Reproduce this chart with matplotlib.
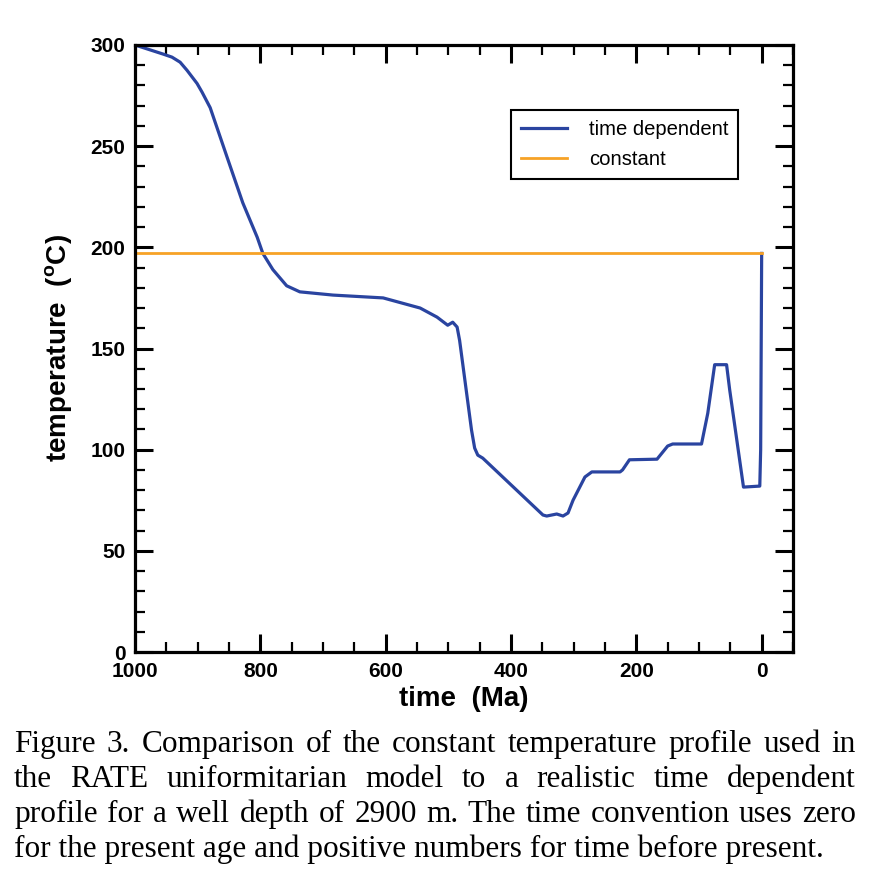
import numpy as np
import matplotlib
matplotlib.use("Agg")
import matplotlib.pyplot as plt
from matplotlib.ticker import MultipleLocator

#%% data

time_dep = [1000, 955, 941, 928, 917, 901, 893, 880, 853, 828, 805, 796, 780,
            758, 737, 684, 604, 545, 518, 501, 493, 486, 482, 470, 463, 458,
            453, 445, 349, 343, 327, 317, 309, 301, 282, 271, 226, 222, 211,
            167, 150, 142, 96, 86, 75, 56, 51, 29, 3, 1.6, 0]
temp_dep = [300, 295.5, 294, 291.5, 287.5, 281, 276.7, 269, 244.5, 222, 205,
            197, 189, 181, 178, 176.4, 175, 170, 165.5, 161.5, 163, 160.6, 154,
            126, 109.7, 100.8, 97.3, 95.8, 67.7, 67.2, 68.2, 67.2, 68.7, 75,
            86.5, 89, 89, 90, 95, 95.3, 101.8, 102.8, 102.8, 118, 142, 142,
            129.5, 81.5, 82, 100, 197]

time_const = [1000, 0]
temp_const = [197, 197]

series_labels = ["time dependent", "constant"]

caption = ["Figure 3.  Comparison of the constant temperature profile used in",
           "the RATE uniformitarian model to a realistic time dependent",
           "profile for a well depth of 2900 m.  The time convention uses zero",
           "for the present age and positive numbers for time before present."]

#%% plot

plt.rcParams["font.family"] = "Liberation Sans"
plt.rcParams["mathtext.fontset"] = "custom"
plt.rcParams["mathtext.rm"] = "Liberation Sans"
plt.rcParams["mathtext.bf"] = "Liberation Sans:bold"

fig = plt.figure(figsize=(8.91, 8.81), dpi=100)
ax = fig.add_axes([135/891, 1 - 652/881, 658/891, 607/881])

ax.plot(time_dep, temp_dep, color="#2a44a0", lw=2.3, label=series_labels[0])
ax.plot(time_const, temp_const, color="#f7a226", lw=2.0, label=series_labels[1])

ax.set_xlim(1000, -50)
ax.set_ylim(0, 300)
ax.xaxis.set_major_locator(MultipleLocator(200))
ax.xaxis.set_minor_locator(MultipleLocator(50))
ax.yaxis.set_major_locator(MultipleLocator(50))
ax.yaxis.set_minor_locator(MultipleLocator(10))
ax.tick_params(which="both", direction="in", top=True, right=True, color="black")
ax.tick_params(which="major", length=13, width=2.2, labelsize=15)
ax.tick_params(axis="x", which="major", pad=7)
ax.tick_params(axis="y", which="major", pad=7)
ax.tick_params(which="minor", length=7, width=1.6)
for lbl in ax.get_xticklabels() + ax.get_yticklabels():
    lbl.set_fontweight("bold")
for sp in ax.spines.values():
    sp.set_linewidth(2.3)

ax.set_xlabel("time  (Ma)", fontsize=20, fontweight="bold", labelpad=4)
ax.set_ylabel(r"temperature  ($^{\mathbf{o}}$C)", fontsize=20, fontweight="bold", labelpad=11)

leg = ax.legend(loc="upper left", bbox_to_anchor=(0.571, 0.893), fontsize=14.6,
                handlelength=2.3, handletextpad=1.05, borderpad=0.5,
                labelspacing=0.55, fancybox=False, framealpha=1,
                edgecolor="black", borderaxespad=0)
leg.get_frame().set_linewidth(1.5)

#%% justified caption

renderer = fig.canvas.get_renderer()
x_left, x_right = 14, 856
baselines = [752, 787, 822, 857]
for i, line in enumerate(caption):
    yb = 1 - baselines[i]/881
    words = line.split()
    if i == len(caption) - 1:
        fig.text(x_left/891, yb, line, fontsize=22.5, family="Liberation Serif",
                 va="baseline", ha="left")
        continue
    objs = [fig.text(0, yb, w, fontsize=22.5, family="Liberation Serif",
                     va="baseline", ha="left") for w in words]
    widths = [o.get_window_extent(renderer).width for o in objs]
    gap = (x_right - x_left - sum(widths)) / (len(words) - 1)
    x = x_left
    for o, w in zip(objs, widths):
        o.set_x(x/891)
        x += w + gap

fig.savefig("out.png", dpi=100)
